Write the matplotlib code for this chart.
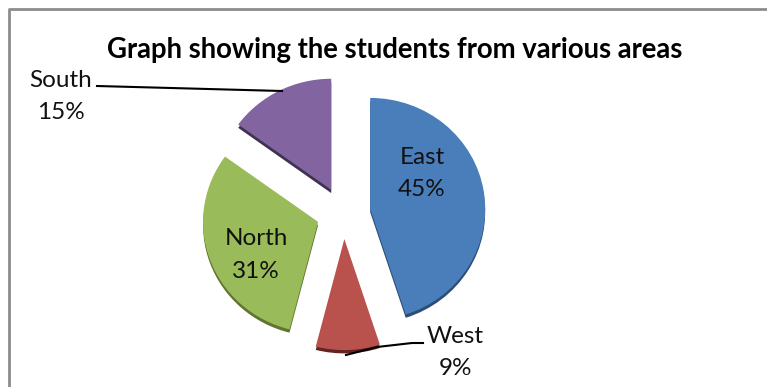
#!/usr/bin/env python3
"""Exploded pie of students by area, with a shallow dark rim under each slice."""
import matplotlib; matplotlib.use("Agg")
import matplotlib.pyplot as plt

W, H = 767, 387
areas = ['East', 'West', 'North', 'South']
shares = [45, 9, 31, 15]
colors = ['#4A7EBB', '#B9524D', '#9ABB59', '#8265A0']
rims = ['#2C4D75', '#632523', '#5F7530', '#3F3151']
explode = [0.235] * 4

plt.rcParams['font.family'] = ['Lato', 'DejaVu Sans']
fig = plt.figure(figsize=(W/100, H/100), dpi=100, facecolor='white')

# pie axes: 1 data unit is 115 px across and 111 px down, centred on (344, 213)
rx, ry = 115, 111
cx, cy = 343.5, 213
ax = fig.add_axes([(cx-1.5*rx)/W, 1-(cy+1.5*ry)/H, 3*rx/W, 3*ry/H])
ax.pie(shares, colors=rims, explode=explode, startangle=90, counterclock=False,
       center=(0, -0.03), wedgeprops={'linewidth': 0})
ax.pie(shares, colors=colors, explode=explode, startangle=90, counterclock=False,
       wedgeprops={'linewidth': 0})
ax.set_aspect('auto')
ax.set_xlim(-1.5, 1.5); ax.set_ylim(-1.5, 1.5)

# overlay in pixel coordinates for border, title, labels and leader lines
ov = fig.add_axes([0, 0, 1, 1], facecolor='none')
ov.set_xlim(0, W); ov.set_ylim(H, 0); ov.axis('off')
ov.plot([9, 9, W], [H, 9, 9], color='#8C8C8C', lw=2)
ov.plot([97, 282], [86, 91], color='black', lw=1.5)
ov.plot([346, 377, 412, 423], [355, 347, 343, 343], color='black', lw=1.5)

ov.text(394.5, 50, 'Graph showing the students from various areas', ha='center', va='center',
        fontsize=19.8, fontweight='bold', color='black')
label_pos = {'East': (422, 173.5), 'West': (455, 352.5), 'North': (256, 255), 'South': (61, 96.5)}
for name, share in zip(areas, shares):
    x, y = label_pos[name]
    ov.text(x, y, f"{name}\n{share}%", ha='center', va='center', fontsize=17.5,
            color='#111111', linespacing=1.65)

fig.savefig('out.png', dpi=100)
